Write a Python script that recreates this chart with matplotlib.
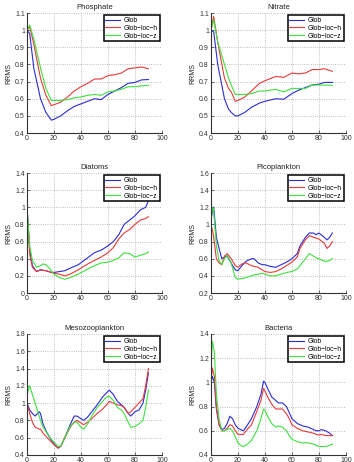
import matplotlib
matplotlib.use('Agg')
import matplotlib.pyplot as plt
import numpy as np
from matplotlib.ticker import FormatStrFormatter

plt.rcParams['font.family'] = ['Liberation Sans', 'DejaVu Sans']

# Phosphate
phos_x = [0, 2, 5, 10, 14, 18, 20, 25, 30, 35, 40, 45, 50, 55, 60, 65, 70, 75, 80, 85, 90]
phos_glob = [1.0, 0.98, 0.78, 0.6, 0.52, 0.475, 0.48, 0.5, 0.53, 0.555, 0.57, 0.585, 0.6, 0.595, 0.625, 0.645, 0.665, 0.69, 0.695, 0.71, 0.712]
phos_loch = [1.0, 1.02, 0.92, 0.72, 0.62, 0.56, 0.565, 0.58, 0.61, 0.645, 0.67, 0.69, 0.715, 0.715, 0.735, 0.74, 0.75, 0.775, 0.78, 0.785, 0.775]
phos_locz = [1.0, 1.03, 0.95, 0.78, 0.66, 0.59, 0.59, 0.59, 0.595, 0.605, 0.61, 0.62, 0.625, 0.62, 0.64, 0.645, 0.655, 0.67, 0.67, 0.675, 0.678]

# Nitrate
nit_x = [0, 2, 5, 10, 13, 15, 18, 20, 25, 30, 36, 40, 48, 54, 60, 65, 70, 75, 80, 84, 90]
nit_glob = [1.0, 0.99, 0.8, 0.6, 0.54, 0.52, 0.5, 0.5, 0.52, 0.55, 0.575, 0.585, 0.6, 0.597, 0.63, 0.65, 0.665, 0.68, 0.685, 0.695, 0.695]
nit_loch = [1.0, 1.08, 0.93, 0.72, 0.66, 0.64, 0.585, 0.59, 0.61, 0.645, 0.69, 0.705, 0.73, 0.725, 0.75, 0.745, 0.75, 0.77, 0.77, 0.775, 0.76]
nit_locz = [1.0, 1.06, 0.93, 0.8, 0.72, 0.68, 0.625, 0.625, 0.625, 0.63, 0.645, 0.645, 0.655, 0.64, 0.66, 0.66, 0.66, 0.68, 0.68, 0.68, 0.678]

# Diatoms
dia_x = [0, 2, 4, 7, 10, 12, 14, 16, 18, 20, 24, 28, 32, 38, 44, 50, 55, 60, 64, 68, 72, 76, 80, 84, 88, 90]
dia_glob = [1.0, 0.5, 0.32, 0.25, 0.27, 0.265, 0.26, 0.25, 0.24, 0.24, 0.25, 0.26, 0.29, 0.33, 0.4, 0.47, 0.5, 0.55, 0.6, 0.68, 0.8, 0.85, 0.9, 0.97, 1.0, 1.08]
dia_loch = [1.0, 0.45, 0.3, 0.25, 0.27, 0.265, 0.26, 0.25, 0.24, 0.23, 0.22, 0.2, 0.22, 0.27, 0.33, 0.38, 0.42, 0.47, 0.53, 0.63, 0.7, 0.74, 0.8, 0.85, 0.87, 0.89]
dia_locz = [1.0, 0.55, 0.38, 0.3, 0.32, 0.34, 0.33, 0.3, 0.26, 0.22, 0.18, 0.16, 0.18, 0.22, 0.27, 0.32, 0.35, 0.36, 0.38, 0.41, 0.47, 0.46, 0.42, 0.44, 0.46, 0.48]

# Picoplankton
pico_x = [0, 1.5, 2, 4, 6, 8, 10, 12, 15, 18, 20, 23, 26, 30, 32, 35, 38, 40, 44, 48, 52, 56, 60, 64, 66, 70, 73, 76, 78, 80, 84, 86, 88, 90]
pico_glob = [1.05, 1.2, 1.2, 0.85, 0.72, 0.6, 0.62, 0.63, 0.55, 0.47, 0.46, 0.52, 0.57, 0.6, 0.6, 0.55, 0.53, 0.53, 0.51, 0.5, 0.53, 0.56, 0.6, 0.66, 0.75, 0.85, 0.9, 0.9, 0.88, 0.9, 0.85, 0.82, 0.85, 0.9]
pico_loch = [1.0, 0.9, 0.85, 0.6, 0.55, 0.53, 0.63, 0.66, 0.6, 0.52, 0.5, 0.54, 0.55, 0.52, 0.51, 0.5, 0.47, 0.45, 0.44, 0.45, 0.48, 0.52, 0.56, 0.62, 0.72, 0.82, 0.87, 0.85, 0.84, 0.83, 0.78, 0.72, 0.75, 0.8]
pico_locz = [1.1, 1.2, 1.15, 0.75, 0.58, 0.53, 0.6, 0.64, 0.55, 0.38, 0.36, 0.37, 0.38, 0.4, 0.41, 0.42, 0.43, 0.42, 0.4, 0.4, 0.42, 0.44, 0.45, 0.48, 0.52, 0.6, 0.66, 0.63, 0.61, 0.6, 0.57, 0.57, 0.58, 0.6]

# Mesozooplankton
meso_x = [0, 2, 4, 6, 9, 10, 12, 15, 18, 20, 23, 25, 28, 32, 35, 37, 40, 42, 45, 48, 52, 56, 59, 61, 64, 67, 70, 72, 75, 77, 80, 83, 86, 88, 90]
meso_glob = [1.0, 0.92, 0.88, 0.85, 0.9, 0.88, 0.75, 0.65, 0.57, 0.53, 0.48, 0.5, 0.6, 0.75, 0.85, 0.85, 0.82, 0.8, 0.84, 0.9, 0.98, 1.07, 1.12, 1.15, 1.1, 1.02, 0.98, 0.95, 0.88, 0.85, 0.9, 0.92, 1.0, 1.15, 1.35]
meso_loch = [1.0, 0.88, 0.78, 0.72, 0.7, 0.7, 0.65, 0.6, 0.55, 0.52, 0.48, 0.5, 0.6, 0.72, 0.78, 0.8, 0.77, 0.75, 0.78, 0.82, 0.88, 0.93, 0.98, 1.02, 1.0, 0.98, 0.97, 0.95, 0.88, 0.9, 0.95, 1.0, 1.05, 1.2, 1.4]
meso_locz = [1.1, 1.2, 1.1, 1.0, 0.85, 0.8, 0.72, 0.65, 0.58, 0.55, 0.5, 0.5, 0.6, 0.73, 0.78, 0.78, 0.72, 0.7, 0.76, 0.85, 0.95, 1.02, 1.07, 1.08, 1.03, 0.95, 0.92, 0.88, 0.78, 0.72, 0.73, 0.76, 0.8, 0.95, 1.15]

# Bacteria
bac_x = [0, 1, 2.5, 4, 6, 8, 10, 12, 14, 16, 18, 20, 22, 24, 26, 30, 34, 37, 39, 40, 42, 45, 48, 50, 53, 56, 58, 60, 64, 68, 72, 76, 78, 80, 82, 85, 88, 90]
bac_glob = [1.0, 1.05, 1.0, 0.78, 0.65, 0.61, 0.62, 0.66, 0.72, 0.7, 0.65, 0.62, 0.61, 0.6, 0.63, 0.7, 0.8, 0.9, 1.01, 1.0, 0.95, 0.88, 0.85, 0.83, 0.83, 0.8, 0.75, 0.7, 0.66, 0.64, 0.63, 0.61, 0.6, 0.6, 0.61, 0.6, 0.58, 0.56]
bac_loch = [1.0, 1.12, 1.05, 0.8, 0.65, 0.6, 0.6, 0.62, 0.65, 0.64, 0.6, 0.57, 0.57, 0.57, 0.6, 0.65, 0.76, 0.85, 0.95, 0.93, 0.88, 0.82, 0.78, 0.78, 0.78, 0.74, 0.7, 0.65, 0.62, 0.6, 0.59, 0.58, 0.57, 0.565, 0.57, 0.56, 0.56, 0.56]
bac_locz = [1.1, 1.34, 1.25, 0.9, 0.7, 0.6, 0.6, 0.61, 0.62, 0.6, 0.55, 0.5, 0.48, 0.47, 0.48, 0.52, 0.6, 0.7, 0.78, 0.77, 0.72, 0.66, 0.63, 0.64, 0.63, 0.6, 0.56, 0.53, 0.51, 0.5, 0.5, 0.49, 0.48, 0.47, 0.47, 0.47, 0.48, 0.49]

labels = ['Glob', 'Glob\u2212loc\u2212h', 'Glob\u2212loc\u2212z']
colors = ['#2b2bd6', '#e83a3a', '#3fe03f']

panels = [
    ('Phosphate', phos_x, [phos_glob, phos_loch, phos_locz], (0.4, 1.1), 0.1),
    ('Nitrate', nit_x, [nit_glob, nit_loch, nit_locz], (0.4, 1.1), 0.1),
    ('Diatoms', dia_x, [dia_glob, dia_loch, dia_locz], (0.0, 1.4), 0.2),
    ('Picoplankton', pico_x, [pico_glob, pico_loch, pico_locz], (0.2, 1.6), 0.2),
    ('Mesozooplankton', meso_x, [meso_glob, meso_loch, meso_locz], (0.4, 1.8), 0.2),
    ('Bacteria', bac_x, [bac_glob, bac_loch, bac_locz], (0.4, 1.4), 0.2),
]

# axes boxes in figure fraction
lefts = [0.0763, 0.596]
bottoms = [0.7121, 0.3658, 0.0152]
heights = [0.2597, 0.2597, 0.262]

fig = plt.figure(figsize=(3.54, 4.62), dpi=100)

for i, (name, x, series, ylim, step) in enumerate(panels):
    r, c = divmod(i, 2)
    ax = fig.add_axes([lefts[c], bottoms[r], 0.381, heights[r]])
    for y, lab, col in zip(series, labels, colors):
        ax.plot(x, y, color=col, lw=0.8, label=lab)
    ax.set_xlim(0, 100)
    ax.set_ylim(*ylim)
    ax.set_xticks(np.arange(0, 101, 20))
    ax.set_yticks(np.round(np.arange(ylim[0], ylim[1] + step / 2, step), 2))
    ax.yaxis.set_major_formatter(FormatStrFormatter('%g'))
    ax.tick_params(labelsize=5, direction='in', length=2, width=0.5, pad=1.5, colors='#333333')
    ax.grid(True, ls=':', lw=0.6, color='#aaaaaa')
    for s in ['top', 'right']:
        ax.spines[s].set_visible(False)
    for s in ['left', 'bottom']:
        ax.spines[s].set_linewidth(0.8)
        ax.spines[s].set_color('#333333')
    ax.set_title(name, fontsize=5.5, pad=3, color='#222222')
    ax.set_ylabel('RRMS', fontsize=5, labelpad=2, color='#222222')
    leg = ax.legend(loc='upper right', fontsize=4.8, fancybox=False, framealpha=1,
                    borderpad=0.25, labelspacing=0.12, handlelength=2.2,
                    handletextpad=0.6, borderaxespad=0.35)
    leg.get_frame().set_edgecolor('black')
    leg.get_frame().set_linewidth(1.1)

plt.savefig('out.png', dpi=100)
plt.close()
